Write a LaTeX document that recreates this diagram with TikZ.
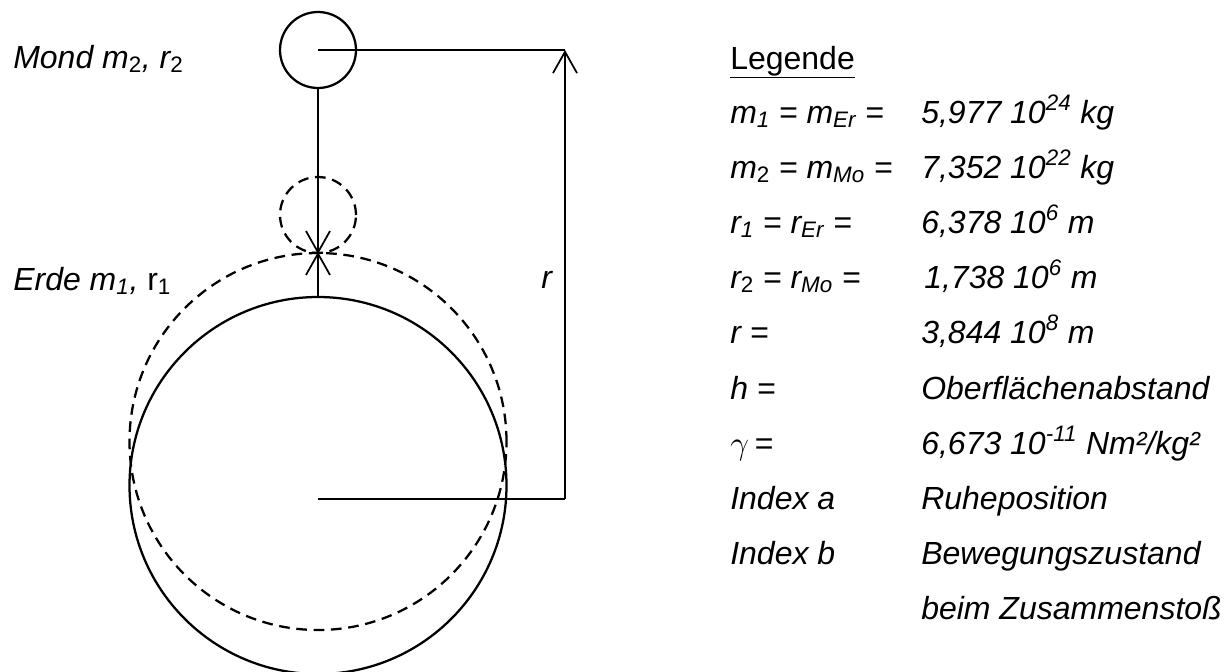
\documentclass[tikz,border=0pt]{standalone}
\usepackage{fontspec}
\setmainfont{Liberation Sans}
\usepackage{tikz}
\usetikzlibrary{positioning,arrows.meta}

\begin{document}
\begin{tikzpicture}[
            x=0.75pt, y=-0.75pt,
            every node/.style={font=\fontsize{24}{28}\selectfont\itshape, inner sep=0pt},
            body/.style={draw, circle, line width=1.7pt, inner sep=0pt},
            dashbody/.style={body, dash pattern=on 8pt off 5pt},
            line/.style={line width=1.8pt},
            barb/.style={line width=1.3pt, -{Straight Barb[length=16pt,width=18pt]}},
            key/.style={anchor=base west},
            val/.style={anchor=base west}
        ]
            \useasboundingbox (0,0) rectangle (1231,671);

            % Bodies: solid = before, dashed = at the collision
            \node[body, minimum size=57pt] (moon) at (318,50) {};
            \node[dashbody, minimum size=57pt] (moonb) at (318,215) {};
            \node[body, minimum size=282.75pt] (earth) at (318,485.5) {};
            \node[dashbody, minimum size=282.75pt] (eartha) at (318,441.5) {};

            % Distance r
            \coordinate (rtop) at (565,50);
            \coordinate (rbot) at (565,499);
            \draw[line] (moon.center) -- (rtop);
            \draw[line] (earth.center |- rbot) -- (rbot);
            \draw[barb, {Straight Barb[length=16pt,width=18pt]}-] (rtop) -- (rbot);

            % Movement of both bodies
            \draw[barb] (moon.south) -- (moonb.south);
            \draw[barb] (earth.north) -- (eartha.north);

            % Labels
            \node[key] (lmond) at (13,68) {Mond m\textsubscript{\upshape 2}, r\textsubscript{\upshape 2}};
            \node[key] (lerde) at (13,290) {Erde m\textsubscript{1}, {\upshape r\textsubscript{1}}};
            \node[key] (lr) at (541,288) {r};

            % Legend
            \node[key, font=\fontsize{24}{28}\selectfont] (leg) at (730,69) {\underline{Legende}};
            \node[key] (k1) at (730,123) {m\textsubscript{1} = m\textsubscript{Er} =};
            \node[key] (k2) at (730,178) {m\textsubscript{\upshape 2} = m\textsubscript{Mo} =};
            \node[key] (k3) at (730,233) {r\textsubscript{1} = r\textsubscript{Er} =};
            \node[key] (k4) at (730,288) {r\textsubscript{\upshape 2} = r\textsubscript{Mo} =};
            \node[key] (k5) at (730,343) {r =};
            \node[key] (k6) at (730,399) {h =};
            \node[key] (k7) at (730,454) {$\gamma$\,=};
            \node[key] (k8) at (730,509) {Index a};
            \node[key] (k9) at (730,564) {Index b};

            \node[val] (v1) at (921,123) {5,977 10\textsuperscript{24} kg};
            \node[val] (v2) at (921,178) {7,352 10\textsuperscript{22} kg};
            \node[val] (v3) at (921,233) {6,378 10\textsuperscript{6} m};
            \node[val] (v4) at (924,288) {1,738 10\textsuperscript{6} m};
            \node[val] (v5) at (921,343) {3,844 10\textsuperscript{8} m};
            \node[val] (v6) at (921,399) {Oberflächenabstand};
            \node[val] (v7) at (921,454) {6,673 10\textsuperscript{-11} Nm²/kg²};
            \node[val] (v8) at (921,509) {Ruheposition};
            \node[val] (v9) at (921,564) {Bewegungszustand};
            \node[val] (v10) at (921,619) {beim Zusammenstoß};
        \end{tikzpicture}
\end{document}
